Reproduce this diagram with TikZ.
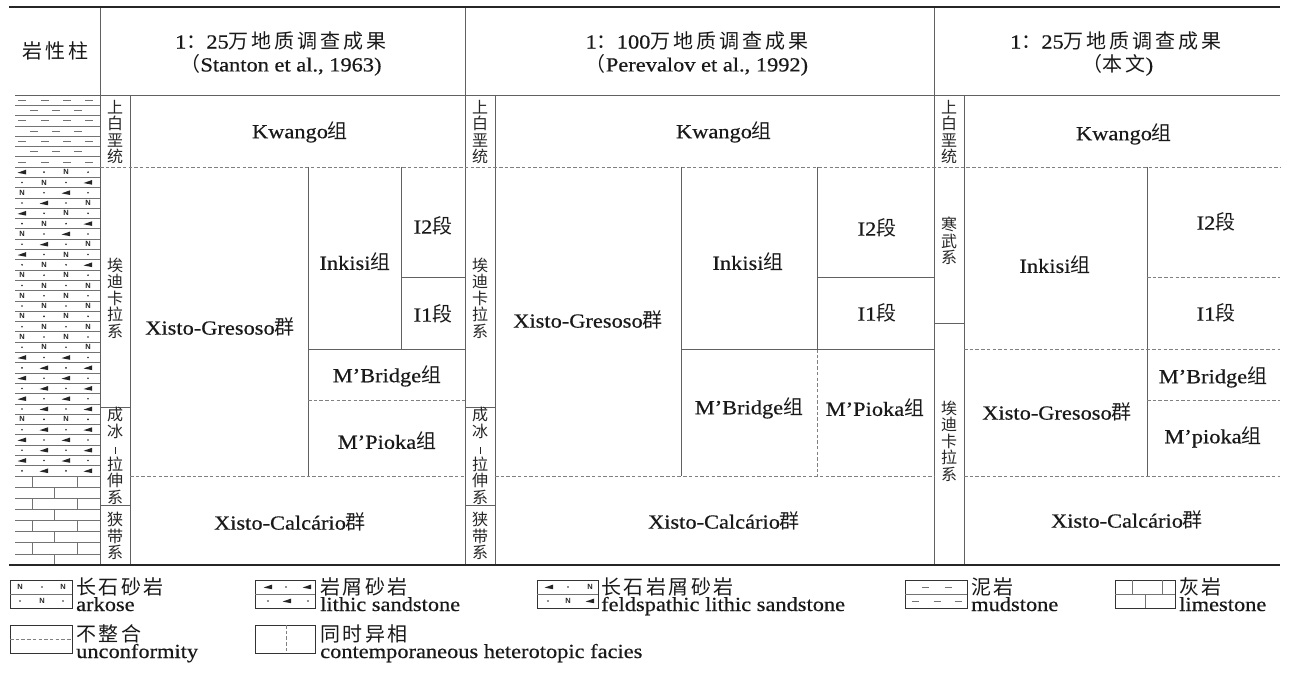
\documentclass[tikz,border=0pt]{standalone}
\usepackage{fontspec}
\setmainfont{Liberation Serif}[FakeStretch=1.12,FakeBold=0.5]
\newfontfamily\cjk{Noto Sans CJK SC}
\newfontfamily\symfont{Liberation Sans}
\newcommand\zh[1]{{\cjk #1}}
\newcommand\hs{\kern3pt}
\newcommand\ks{\kern2.5pt}
\newcount\symcnt
\newcommand\sym[3]{%
  \global\advance\symcnt by 1
  \if#3N\node[nsym] (sym\the\symcnt) at (#1,#2) {N};\fi
  \if#3d\fill[symc] (#1,#2) circle[radius=0.9pt];\fi
  \if#3w\fill[symc] ({#1-4.5},{#2+0.6}) -- ({#1+4},{#2-2.4}) -- ({#1+4},{#2+2.2}) -- cycle;\fi
}
\begin{document}
\begin{tikzpicture}[x=1pt,y=-1pt,
  tl/.style={draw=black!62,line width=0.9pt},
  dl/.style={draw=black!50,line width=0.8pt,dash pattern=on 3.5pt off 2.2pt},
  heavy/.style={draw=black!85,line width=2.2pt},
  lit/.style={draw=black!55,line width=0.7pt},
  symc/.style={fill=black!85},
  nsym/.style={font=\symfont\bfseries\fontsize{7.5}{8}\selectfont,inner sep=0pt,text=black!85},
  lt/.style={font=\fontsize{20}{22}\selectfont,inner sep=0pt,text=black!90},
  vt/.style={font=\cjk\fontsize{16}{16.5}\selectfont,inner sep=0pt,align=center,text=black!85},
  legbox/.style={draw=black!80,line width=0.9pt},
  legin/.style={draw=black!55,line width=0.8pt},
  legz/.style={font=\cjk\fontsize{20}{22}\selectfont,inner sep=0pt,anchor=west,text=black!90},
  lege/.style={font=\fontsize{20}{22}\selectfont,inner sep=0pt,anchor=base west,text=black!90},
]
\fill[white] (0,0) rectangle (1289,676);
\useasboundingbox (0,0) rectangle (1289,676);

% ---------- lithology column ----------
% mudstone
\foreach \r in {0,...,6}{
  \pgfmathsetmacro\yt{95+10.3*\r}
  \pgfmathsetmacro\ym{\yt+5.1}
  \pgfmathsetmacro\yb{\yt+10.3}
  \draw[lit] (15,\yb) -- (100,\yb);
  \pgfmathparse{int(mod(\r,2))}
  \ifnum\pgfmathresult=0
    \foreach \xx in {22,45,67,89} \draw[lit] (\xx-4,\ym) -- (\xx+4,\ym);
  \else
    \foreach \xx in {34,56,78} \draw[lit] (\xx-4,\ym) -- (\xx+4,\ym);
  \fi
}
% sandstones
\foreach \pa/\pb/\pc/\pd [count=\r from 0] in {
  w/d/N/d, d/N/d/w, N/d/w/d, d/w/d/N, w/d/N/d, d/N/d/w, N/d/w/d, d/w/d/N, w/d/N/d, d/N/d/w,
  N/d/N/d, d/N/d/N, N/d/N/d, d/N/d/N, N/d/N/d, d/N/d/N, N/d/N/d, d/N/d/N,
  w/d/w/d, d/w/d/w, w/d/w/d, d/w/d/w, w/d/w/d,
  d/w/d/w, N/d/N/d, d/w/d/w, w/d/w/d, d/w/d/w, w/d/w/d, d/w/d/w}{
  \pgfmathsetmacro\ym{167+10.3*\r+5.15}
  \pgfmathsetmacro\yb{167+10.3*\r+10.3}
  \draw[lit] (15,\yb) -- (100,\yb);
  \sym{22}{\ym}{\pa}\sym{44}{\ym}{\pb}\sym{66}{\ym}{\pc}\sym{88}{\ym}{\pd}
}
% limestone
\foreach \r in {0,...,7}{
  \pgfmathsetmacro\yt{476+11.125*\r}
  \pgfmathsetmacro\yb{\yt+11.125}
  \draw[lit] (15,\yt) -- (100,\yt);
  \pgfmathparse{int(mod(\r,2))}
  \ifnum\pgfmathresult=0
    \draw[lit] (32,\yt) -- (32,\yb) (77,\yt) -- (77,\yb);
  \else
    \draw[lit] (54,\yt) -- (54,\yb);
  \fi
}

% ---------- table grid ----------
\draw[tl] (15,95) -- (1280,95);
\foreach \xx in {100,465,934} \draw[tl] (\xx,7) -- (\xx,565);
\foreach \xx in {130,495,964} \draw[tl] (\xx,95) -- (\xx,565);
\draw[dl] (100,167) -- (1280,167);
% col 1
\draw[tl] (308,167) -- (308,476);
\draw[tl] (401,167) -- (401,349);
\draw[tl] (401,277) -- (465,277);
\draw[tl] (308,349) -- (465,349);
\draw[dl] (308,400) -- (465,400);
\draw[dl] (130,476) -- (465,476);
\draw[tl] (100,407) -- (130,407);
\draw[tl] (100,505) -- (130,505);
% col 2
\draw[tl] (681,167) -- (681,476);
\draw[tl] (817,167) -- (817,349);
\draw[dl] (817,349) -- (817,476);
\draw[tl] (817,277) -- (934,277);
\draw[tl] (681,349) -- (934,349);
\draw[dl] (495,476) -- (934,476);
\draw[tl] (465,407) -- (495,407);
\draw[tl] (465,505) -- (495,505);
% col 3
\draw[tl] (1147,167) -- (1147,476);
\draw[dl] (1147,277) -- (1280,277);
\draw[dl] (964,349) -- (1280,349);
\draw[dl] (1147,400) -- (1280,400);
\draw[dl] (964,476) -- (1280,476);
\draw[tl] (934,323) -- (964,323);
% heavy rules
\draw[heavy] (9,7) -- (1280,7);
\draw[heavy] (9,565) -- (1280,565);

% ---------- header ----------
\node[lt,font=\cjk\fontsize{20}{22}\selectfont] (hA) at (55,51) {岩\hs 性\hs 柱};
\node[lt] (h1a) at (281,41) {1\zh{：}25\zh{万\hs 地\hs 质\hs 调\hs 查\hs 成\hs 果}};
\node[lt] (h1b) at (281,65) {\zh{（}Stanton et al., 1963)};
\node[lt] (h2a) at (697,41) {1\zh{：}100\zh{万\hs 地\hs 质\hs 调\hs 查\hs 成\hs 果}};
\node[lt] (h2b) at (697,65) {\zh{（}Perevalov et al., 1992)};
\node[lt] (h3a) at (1116,41) {1\zh{：}25\zh{万\hs 地\hs 质\hs 调\hs 查\hs 成\hs 果}};
\node[lt] (h3b) at (1118,65) {\zh{（本\hs 文})};

% ---------- column 1 ----------
\node[vt] (s1a) at (115,132) {上\\白\\垩\\统};
\node[vt] (s1b) at (115,298) {埃\\迪\\卡\\拉\\系};
\node[vt] (s1c) at (115,456) {成\\冰\\\rule{0.7pt}{7pt}\\拉\\伸\\系};
\node[vt] (s1d) at (115,536) {狭\\带\\系};
\node[lt] (k1) at (300,132) {Kwango\zh{组}};
\node[lt] (g1) at (220,327) {Xisto-Gresoso\zh{群}};
\node[lt] (i1) at (355,262) {Inkisi\zh{组}};
\node[lt] (i12) at (433,226) {I2\zh{段}};
\node[lt] (i11) at (433,314) {I1\zh{段}};
\node[lt] (b1) at (387,376) {M’Bridge\zh{组}};
\node[lt] (p1) at (387,441) {M’Pioka\zh{组}};
\node[lt] (c1) at (290,522) {Xisto-Calcário\zh{群}};

% ---------- column 2 ----------
\node[vt] (s2a) at (480,132) {上\\白\\垩\\统};
\node[vt] (s2b) at (480,298) {埃\\迪\\卡\\拉\\系};
\node[vt] (s2c) at (480,456) {成\\冰\\\rule{0.7pt}{7pt}\\拉\\伸\\系};
\node[vt] (s2d) at (480,536) {狭\\带\\系};
\node[lt] (k2) at (724,132) {Kwango\zh{组}};
\node[lt] (g2) at (588,320) {Xisto-Gresoso\zh{群}};
\node[lt] (i2) at (748,262) {Inkisi\zh{组}};
\node[lt] (i22) at (877,228) {I2\zh{段}};
\node[lt] (i21) at (877,313) {I1\zh{段}};
\node[lt] (b2) at (749,408) {M’Bridge\zh{组}};
\node[lt] (p2) at (875,408) {M’Pioka\zh{组}};
\node[lt] (c2) at (724,521) {Xisto-Calcário\zh{群}};

% ---------- column 3 ----------
\node[vt] (s3a) at (949,132) {上\\白\\垩\\统};
\node[vt] (s3b) at (949,241) {寒\\武\\系};
\node[vt] (s3c) at (949,441) {埃\\迪\\卡\\拉\\系};
\node[lt] (k3) at (1124,134) {Kwango\zh{组}};
\node[lt] (i3) at (1055,265) {Inkisi\zh{组}};
\node[lt] (i32) at (1216,222) {I2\zh{段}};
\node[lt] (i31) at (1216,313) {I1\zh{段}};
\node[lt] (b3) at (1213,377) {M’Bridge\zh{组}};
\node[lt] (p3) at (1213,437) {M’pioka\zh{组}};
\node[lt] (g3) at (1057,412) {Xisto-Gresoso\zh{群}};
\node[lt] (c3) at (1127,520) {Xisto-Calcário\zh{群}};

% ---------- legend ----------
% arkose
\draw[legbox] (10,580) rectangle (72,608);
\draw[legin] (10,594) -- (72,594);
\sym{20}{587}{N}\sym{42}{587}{d}\sym{63}{587}{N}
\sym{20}{601}{d}\sym{42}{601}{N}\sym{63}{601}{d}
\node[legz] (l1z) at (76,587) {长\ks 石\ks 砂\ks 岩};
\node[lege] (l1e) at (76,611) {arkose};
% lithic
\draw[legbox] (255,580) rectangle (315,608);
\draw[legin] (255,594) -- (315,594);
\sym{268}{587}{w}\sym{286}{587}{d}\sym{307}{587}{w}
\sym{268}{601}{d}\sym{287}{601}{w}\sym{308}{601}{d}
\node[legz] (l2z) at (320,587) {岩\ks 屑\ks 砂\ks 岩};
\node[lege] (l2e) at (320,611) {lithic sandstone};
% feldspathic lithic
\draw[legbox] (537,580) rectangle (598,608);
\draw[legin] (537,594) -- (598,594);
\sym{549}{587}{w}\sym{568}{587}{d}\sym{590}{587}{N}
\sym{548}{601}{d}\sym{568}{601}{N}\sym{590}{601}{w}
\node[legz] (l3z) at (601,587) {长\ks 石\ks 岩\ks 屑\ks 砂\ks 岩};
\node[lege] (l3e) at (601,611) {feldspathic lithic sandstone};
% mudstone
\draw[legbox] (905,580) rectangle (967,608);
\draw[legin] (905,594) -- (967,594);
\foreach \xx in {925,948} \draw[legin] (\xx-3.5,587) -- (\xx+3.5,587);
\foreach \xx in {915,937,958} \draw[legin] (\xx-3.5,601) -- (\xx+3.5,601);
\node[legz] (l4z) at (971,587) {泥\ks 岩};
\node[lege] (l4e) at (971,611) {mudstone};
% limestone
\draw[legbox] (1115,580) rectangle (1175,608);
\draw[legin] (1115,594) -- (1175,594);
\draw[legin] (1132,580) -- (1132,594) (1162,580) -- (1162,594) (1145,594) -- (1145,608);
\node[legz] (l5z) at (1179,587) {灰\ks 岩};
\node[lege] (l5e) at (1179,611) {limestone};
% unconformity
\draw[legbox] (10,625) rectangle (72,653);
\draw[dl] (10,639) -- (72,639);
\node[legz] (l6z) at (76,634) {不\ks 整\ks 合};
\node[lege] (l6e) at (76,658) {unconformity};
% contemporaneous heterotopic facies
\draw[legbox] (255,625) rectangle (315,653);
\draw[dl] (286,625) -- (286,653);
\node[legz] (l7z) at (320,634) {同\ks 时\ks 异\ks 相};
\node[lege] (l7e) at (320,658) {contemporaneous heterotopic facies};
\end{tikzpicture}
\end{document}
